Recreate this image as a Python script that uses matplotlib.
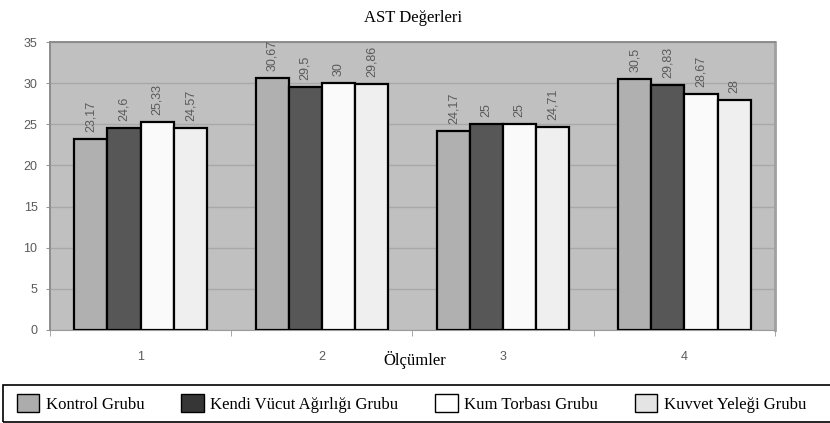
import numpy as np
import matplotlib
matplotlib.use('Agg')
import matplotlib.pyplot as plt
from matplotlib.patches import Patch, Rectangle

# AST values per measurement
olcumler = ['1', '2', '3', '4']
gruplar = ['Kontrol Grubu', 'Kendi Vücut Ağırlığı Grubu', 'Kum Torbası Grubu', 'Kuvvet Yeleği Grubu']
kontrol = [23.17, 30.67, 24.17, 30.5]
kendi = [24.6, 29.5, 25, 29.83]
kum = [25.33, 30, 25, 28.67]
kuvvet = [24.57, 29.86, 24.71, 28]
etiketler = [['23,17', '30,67', '24,17', '30,5'],
             ['24,6', '29,5', '25', '29,83'],
             ['25,33', '30', '25', '28,67'],
             ['24,57', '29,86', '24,71', '28']]

bar_colors = ['#b0b0b0', '#575757', '#fafafa', '#efefef']
leg_colors = ['#acacac', '#363636', '#ffffff', '#e4e4e4']

serif = ['Liberation Serif', 'DejaVu Serif']
sans = ['Liberation Sans', 'DejaVu Sans']

fig = plt.figure(figsize=(8.3, 4.23), dpi=100)
ax = fig.add_axes([0.0602, 0.2199, 0.8735, 0.6808])
ax.set_facecolor('#c0c0c0')

x = np.arange(len(olcumler))
w = 0.183
series = [kontrol, kendi, kum, kuvvet]
for i, vals in enumerate(series):
    pos = x + (i - 1.5) * w
    bars = ax.bar(pos, vals, w, color=bar_colors[i], edgecolor='black', linewidth=1.6, zorder=3)
    for b, lab in zip(bars, etiketler[i]):
        ax.annotate(lab, (b.get_x() + b.get_width() / 2, b.get_height()),
                    xytext=(0, 5), textcoords='offset points', rotation=90,
                    ha='center', va='bottom', fontsize=9, color='#5a5a5a', family=sans)

ax.set_xlim(-0.5, 3.5)
ax.set_ylim(0, 35)
ax.set_yticks(np.arange(0, 36, 5))
ax.yaxis.grid(True, color='#a8a8a8', linewidth=1, zorder=0)
ax.set_axisbelow(True)
ax.set_xticks(x)
ax.set_xticklabels(olcumler)
ax.set_xticks(np.arange(-0.5, 4, 1), minor=True)
ax.tick_params(axis='x', which='major', length=0, pad=15, labelsize=9, labelcolor='#5a5a5a')
ax.tick_params(axis='x', which='minor', length=4, color='#999999', direction='out')
ax.tick_params(axis='y', length=3, color='#999999', pad=6, labelsize=9, labelcolor='#5a5a5a')
for t in ax.get_xticklabels() + ax.get_yticklabels():
    t.set_family(sans)
for s in ['top', 'left']:
    ax.spines[s].set_color('#8c8c8c')
    ax.spines[s].set_linewidth(1.4)
ax.spines['bottom'].set_color('#9a9a9a')
ax.spines['right'].set_color('#a0a0a0')
ax.spines['right'].set_linewidth(2)

fig.text(0.497, 0.958, 'AST Değerleri', ha='center', va='center', fontsize=12, family=serif)
fig.text(0.5, 0.149, 'Ölçümler', ha='center', va='center', fontsize=12, family=serif)

# legend frame
fig.patches.append(Rectangle((3 / 830, 1 - 422 / 423), 1.0, 37 / 423, transform=fig.transFigure,
                             fill=False, edgecolor='black', linewidth=1.2))
handles = [Patch(facecolor=c, edgecolor='black', linewidth=1) for c in leg_colors]
fig.legend(handles, gruplar, ncol=4, frameon=False, loc='center left',
           bbox_to_anchor=(0.020, 1 - 403.5 / 423), prop={'family': serif, 'size': 12},
           handlelength=1.35, handleheight=1.3, handletextpad=0.4, columnspacing=2.2,
           borderaxespad=0, borderpad=0)

fig.savefig('out.png', dpi=100)
